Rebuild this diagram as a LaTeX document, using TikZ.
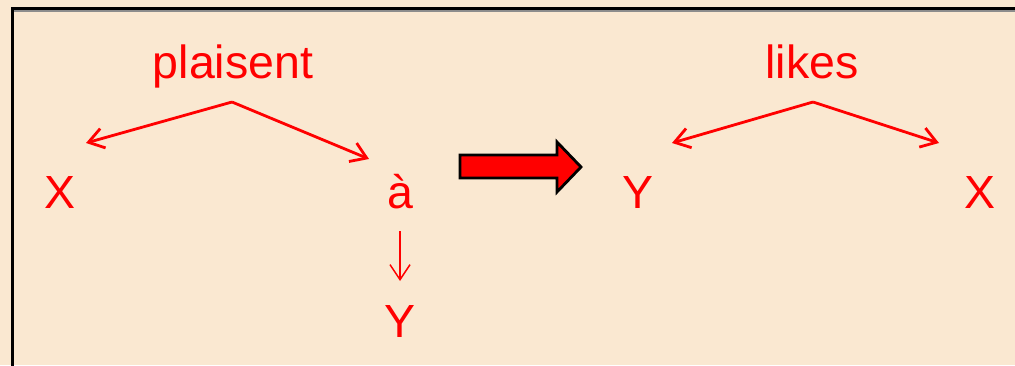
\documentclass[tikz,border=0pt]{standalone}
\usepackage{fontspec}
\setmainfont{Liberation Sans}
\usetikzlibrary{arrows.meta}
\definecolor{paper}{RGB}{250,232,209}
\definecolor{wordred}{RGB}{255,0,0}
\tikzset{
  word/.style={text=wordred, font=\fontsize{46.5}{50}\selectfont, anchor=base, inner sep=0pt},
  branch/.style={draw=wordred, line width=2.8pt, -{Straight Barb[length=15pt,width=20pt,line width=2.8pt]}},
  thinbranch/.style={draw=wordred, line width=1.5pt, -{Straight Barb[length=15pt,width=20pt,line width=1.5pt]}},
  bigarrow/.style={fill=wordred, draw=black, line width=2.8pt, line join=miter}
}
\begin{document}
\begin{tikzpicture}[x=1pt,y=1pt]
  % page and frame
  \fill[paper] (0,0) rectangle (1015,365);
  \useasboundingbox (0,0) rectangle (1015,365);
  \draw[black!45, line width=1.2pt] (13,354) -- (1020,354);
  \draw[black, line width=3pt] (12,-10) -- (12,356) -- (1030,356);

  % French structure
  \node[word] (plaisent) at (233,287) {plaisent};
  \node[word] (xl) at (60,157) {X};
  \node[word] (a) at (400,157) {à};
  \node[word] (yl) at (400,28) {Y};
  \coordinate (plroot) at (232,263);
  \coordinate (pltipx) at (86,222);
  \coordinate (pltipa) at (369,206);
  \coordinate (atop) at (400,134);
  \coordinate (atip) at (400,84);
  \draw[branch] (plroot) -- (pltipx);
  \draw[branch] (plroot) -- (pltipa);
  \draw[thinbranch] (atop) -- (atip);

  % transfer arrow
  \draw[bigarrow] (460,187) -- (557,187) -- (557,173) -- (581,198)
        -- (557,223) -- (557,210) -- (460,210) -- cycle;

  % English structure
  \node[word] (likes) at (812,287) {likes};
  \node[word] (yr) at (638,157) {Y};
  \node[word] (xr) at (980,157) {X};
  \coordinate (liroot) at (813,263);
  \coordinate (litipy) at (672,222);
  \coordinate (litipx) at (939,222);
  \draw[branch] (liroot) -- (litipy);
  \draw[branch] (liroot) -- (litipx);
\end{tikzpicture}
\end{document}
